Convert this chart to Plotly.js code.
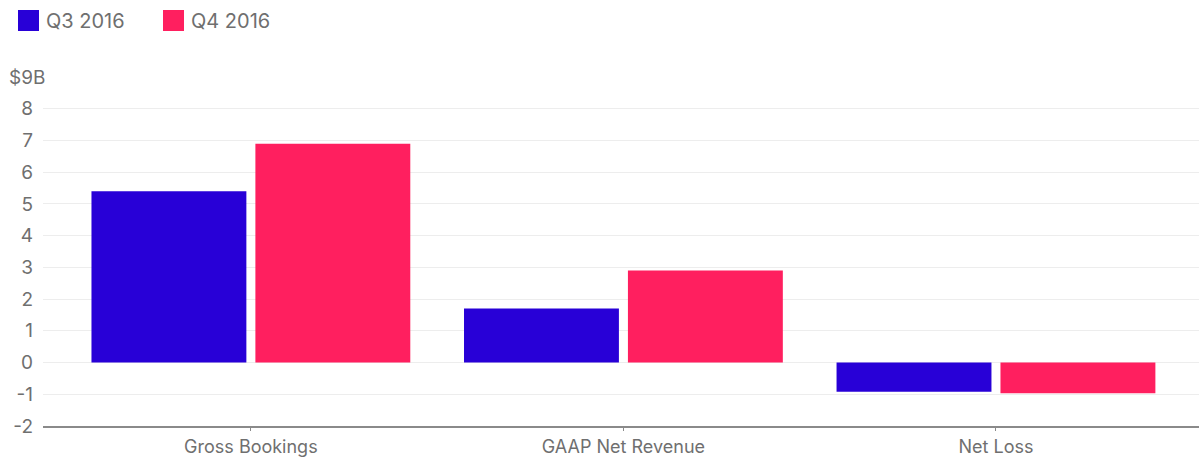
<!DOCTYPE html>
<html>
<head>
<meta charset="utf-8">
<script src="https://cdn.plot.ly/plotly-3.0.1.min.js"></script>
<style>
  html, body { margin: 0; padding: 0; background: #ffffff; }
  #chart { width: 1199px; height: 458px; }
</style>
</head>
<body>
<div id="chart"></div>
<script>
// Uber quarterly results, billions of US dollars
const categories = ["Gross Bookings", "GAAP Net Revenue", "Net Loss"];
const seriesNames = ["Q3 2016", "Q4 2016"];
const q3Values = [5.4, 1.7, -0.92];
const q4Values = [6.9, 2.9, -0.97];
const seriesColors = ["#2800d7", "#ff1f5f"];
const yTickValues = [-2, -1, 0, 1, 2, 3, 4, 5, 6, 7, 8, 9];
const yTickLabels = ["-2", "-1", "0", "1", "2", "3", "4", "5", "6", "7", "8", "$9"];

const font = "Inter, 'Liberation Sans', Arial, sans-serif";
const textGray = "#6f6f6f";

const traces = [q3Values, q4Values].map((vals, i) => ({
  type: "bar",
  name: seriesNames[i],
  x: categories,
  y: vals,
  marker: { color: seriesColors[i], line: { width: 0 } },
  hoverinfo: "x+y+name",
  showlegend: false
}));

// Custom legend: square swatches and labels above the plot
const legendOffsets = [0, 145];
const shapes = seriesNames.map((n, i) => ({
  type: "rect",
  xref: "paper", yref: "paper",
  xsizemode: "pixel", ysizemode: "pixel",
  xanchor: 0, yanchor: 1,
  x0: -25 + legendOffsets[i], x1: -4 + legendOffsets[i],
  y0: 46, y1: 67,
  fillcolor: seriesColors[i],
  line: { width: 0 }
}));

const annotations = seriesNames.map((n, i) => ({
  text: n,
  xref: "paper", yref: "paper",
  x: 0, y: 1,
  xanchor: "left", yanchor: "middle",
  xshift: 1 + legendOffsets[i], yshift: 56,
  showarrow: false,
  font: { family: font, size: 20, color: textGray }
}));

// Unit suffix hanging after the top tick label
annotations.push({
  text: "B",
  xref: "paper", yref: "y",
  x: 0, y: 9,
  xanchor: "left", yanchor: "middle",
  xshift: -11,
  showarrow: false,
  bgcolor: "#ffffff",
  borderpad: 0,
  font: { family: font, size: 19, color: textGray }
});

const layout = {
  width: 1199,
  height: 458,
  margin: { l: 43, r: 0, t: 77, b: 32 },
  paper_bgcolor: "#ffffff",
  plot_bgcolor: "#ffffff",
  barmode: "group",
  bargap: 0.12,
  bargroupgap: 0.055,
  font: { family: font, size: 19, color: textGray },
  xaxis: {
    type: "category",
    range: [-0.558, 2.545],
    showgrid: false,
    zeroline: false,
    showline: true,
    linecolor: "#8a8a8a",
    linewidth: 2,
    ticks: "outside",
    ticklen: 3,
    tickwidth: 1,
    tickcolor: "#8a8a8a",
    tickfont: { family: font, size: 18, color: textGray },
    fixedrange: true
  },
  yaxis: {
    range: [-2, 9],
    tickmode: "array",
    tickvals: yTickValues,
    ticktext: yTickLabels,
    showgrid: true,
    gridcolor: "#ededed",
    gridwidth: 1,
    zeroline: true,
    zerolinecolor: "#ededed",
    zerolinewidth: 1,
    showline: false,
    ticks: "",
    ticklabelstandoff: 9,
    tickfont: { family: font, size: 19, color: textGray },
    fixedrange: true
  },
  shapes: shapes,
  annotations: annotations
};

Plotly.newPlot("chart", traces, layout, { displayModeBar: false, staticPlot: true });
</script>
</body>
</html>
